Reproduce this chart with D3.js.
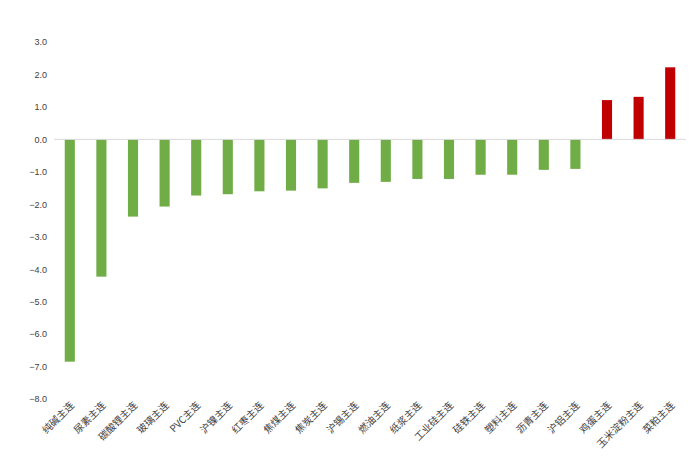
<!DOCTYPE html>
<html>
<head>
<meta charset="utf-8">
<script src="https://cdn.jsdelivr.net/npm/d3@7"></script>
<style>
body { margin: 0; background: #fff; }
svg { display: block; font-family: "Noto Sans CJK SC", "Liberation Sans", sans-serif; }
</style>
</head>
<body>
<div id="chart"></div>
<script>
// contracts, sorted by change
const categories = ["纯碱主连", "尿素主连", "碳酸锂主连", "玻璃主连", "PVC主连", "沪镍主连", "红枣主连", "焦煤主连",
    "焦炭主连", "沪锡主连", "燃油主连", "纸浆主连", "工业硅主连", "硅铁主连", "塑料主连", "沥青主连",
    "沪铝主连", "鸡蛋主连", "玉米淀粉主连", "菜粕主连"];
const values = [-6.85, -4.23, -2.38, -2.07, -1.73, -1.69, -1.60, -1.58,
    -1.51, -1.34, -1.31, -1.22, -1.22, -1.09, -1.09, -0.94,
    -0.91, 1.21, 1.31, 2.22];
const yTicks = [3, 2, 1, 0, -1, -2, -3, -4, -5, -6, -7, -8];

const width = 700, height = 460;
const margin = { top: 42, right: 14, bottom: 62, left: 54 };

const svg = d3.select("#chart").append("svg")
    .attr("width", width)
    .attr("height", height);

const x = d3.scaleBand()
    .domain(categories)
    .range([margin.left, width - margin.right])
    .paddingInner(0.68)
    .paddingOuter(0.34);

const y = d3.scaleLinear()
    .domain([-8, 3])
    .range([height - margin.bottom + 1, margin.top]);

// y axis labels, no line
const yAxis = d3.axisLeft(y).tickValues(yTicks).tickFormat(d3.format(".1f")).tickSize(0).tickPadding(7);
svg.append("g")
    .attr("transform", `translate(${margin.left},0)`)
    .call(yAxis)
    .call(g => g.select(".domain").remove())
    .call(g => g.selectAll("text")
        .attr("font-family", "Liberation Sans, sans-serif")
        .attr("font-size", 9)
        .attr("fill", "#404040"));

// bars
svg.selectAll("rect.bar")
    .data(values)
    .enter()
    .append("rect")
    .attr("class", "bar")
    .attr("x", (d, i) => x(categories[i]))
    .attr("y", d => y(Math.max(0, d)))
    .attr("width", x.bandwidth())
    .attr("height", d => Math.abs(y(d) - y(0)))
    .attr("fill", d => d < 0 ? "#70ad47" : "#c00000");

// zero line
svg.append("line")
    .attr("x1", margin.left)
    .attr("x2", width - margin.right)
    .attr("y1", y(0))
    .attr("y2", y(0))
    .attr("stroke", "#d9d9d9")
    .attr("stroke-width", 1);

// category labels, rotated
svg.append("g")
    .selectAll("text")
    .data(categories)
    .enter()
    .append("text")
    .attr("transform", d => `translate(${x(d) + x.bandwidth() / 2 + 5},${height - margin.bottom + 8}) rotate(-45)`)
    .attr("text-anchor", "end")
    .attr("font-size", 10)
    .attr("fill", "#404040")
    .text(d => d);
</script>
</body>
</html>
